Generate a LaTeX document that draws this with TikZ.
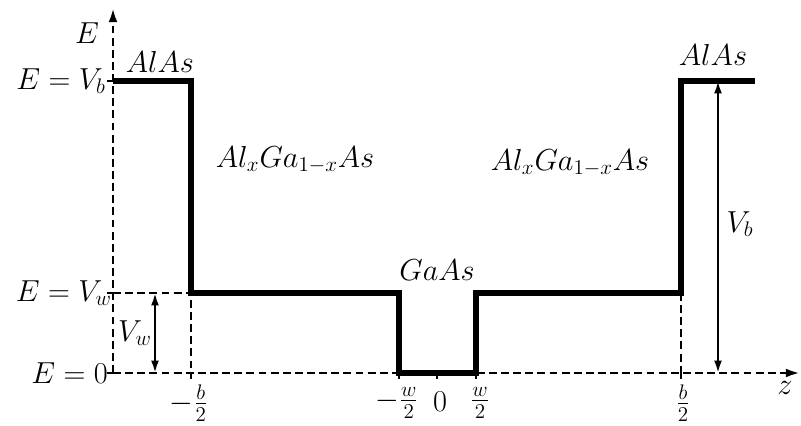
\documentclass[tikz,border=0pt]{standalone}
\usepackage{amsmath}
\usetikzlibrary{arrows.meta}
\tikzset{
  profile/.style={line width=2.9pt,line join=miter},
  guide/.style={line width=1.5pt,dash pattern=on 4.5pt off 2.4pt},
  axistip/.style={-{Latex[length=8pt,width=5pt]}},
  gap/.style={line width=1.3pt,{Latex[length=7pt,width=4.5pt]}-{Latex[length=7pt,width=4.5pt]}},
  tick/.style={line width=1.2pt},
  ticklbl/.style={inner sep=1pt},
}
\begin{document}
\begin{tikzpicture}[font=\fontsize{18.6}{22}\selectfont]
  \useasboundingbox (-2.26,-1.06) rectangle (13.76,7.46);
  \def\Vb{5.84}
  \def\Vw{1.6}
  % axes
  \coordinate (O) at (0,0);
  \coordinate (Ztip) at (13.74,0);
  \coordinate (Etip) at (0,7.3);
  \draw[guide,axistip] (O) -- (Ztip);
  \draw[guide,axistip] (O) -- (Etip);
  \node (Elbl) at (-0.52,6.8) {$E$};
  \node (zlbl) at (13.44,-0.3) {$z$};
  % band edge
  \coordinate (bl) at (1.56,0);
  \coordinate (wl) at (5.72,0);
  \coordinate (zero) at (6.48,0);
  \coordinate (wr) at (7.26,0);
  \coordinate (br) at (11.36,0);
  \draw[profile] (0,\Vb) -- (1.56,\Vb) -- (1.56,\Vw) -- (5.72,\Vw) -- (wl)
    -- (wr) -- (7.26,\Vw) -- (11.36,\Vw) -- (11.36,\Vb) -- (12.84,\Vb);
  \draw[guide] (0,\Vw) -- (1.56,\Vw) -- (bl);
  \draw[guide] (11.36,\Vw) -- (br);
  % ticks
  \foreach \p in {bl,wl,zero,wr,br}{\draw[tick] (\p) -- ++(0,-0.13);}
  \foreach \l in {0,\Vw,\Vb}{\draw[tick] (0,\l) -- ++(-0.12,0);}
  \node[anchor=east,inner sep=1pt] (Vblvl) at (-0.1,\Vb) {$E=V_b$};
  \node[anchor=east,inner sep=1pt] (Vwlvl) at (0.02,\Vw) {$E=V_w$};
  \node[anchor=east,inner sep=1pt] (zerolvl) at (-0.06,0) {$E=0$};
  \node[ticklbl] (blbl) at (1.52,-0.6) {$-\frac{b}{2}$};
  \node[ticklbl] (wlbl) at (5.68,-0.6) {$-\frac{w}{2}$};
  \node[ticklbl] (zerolbl) at (6.54,-0.58) {$0$};
  \node[ticklbl] (wrbl) at (7.34,-0.6) {$\frac{w}{2}$};
  \node[ticklbl] (brbl) at (11.4,-0.6) {$\frac{b}{2}$};
  % offsets
  \coordinate (Vwtop) at (0.84,\Vw);
  \coordinate (Vwbot) at (0.84,0);
  \draw[gap] (Vwtop) -- (Vwbot);
  \node (Vwlbl) at (0.44,0.8) {$V_w$};
  \coordinate (Vbtop) at (12.1,\Vb);
  \coordinate (Vbbot) at (12.1,0);
  \draw[gap] (Vbtop) -- (Vbbot);
  \node (Vblbl) at (12.54,2.98) {$V_b$};
  % materials
  \node (AlAsL) at (0.94,6.22) {$AlAs$};
  \node (AlGaL) at (3.64,4.26) {$Al_xGa_{1-x}As$};
  \node (GaAs) at (6.48,2.06) {$GaAs$};
  \node (AlGaR) at (9.14,4.2) {$Al_xGa_{1-x}As$};
  \node (AlAsR) at (12.0,6.36) {$AlAs$};
\end{tikzpicture}
\end{document}
